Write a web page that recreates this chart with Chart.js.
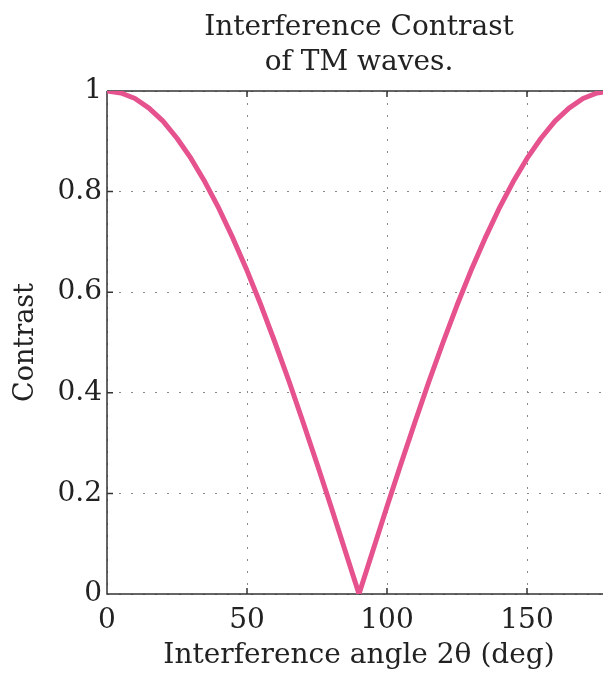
<!DOCTYPE html>
<html>
<head>
<meta charset="utf-8">
<script src="https://cdn.jsdelivr.net/npm/chart.js@4"></script>
<style>
  html, body { margin: 0; padding: 0; background: #fff; overflow: hidden; }
</style>
</head>
<body>
<canvas id="contrastChart" width="620" height="673"></canvas>
<script>
// interference angle 2θ in degrees
const angles = [0, 5, 10, 15, 20, 25, 30, 35, 40, 45, 50, 55, 60, 65, 70, 75, 80, 85, 90,
    95, 100, 105, 110, 115, 120, 125, 130, 135, 140, 145, 150, 155, 160, 165, 170, 175, 180];
// contrast
const contrast = [1.000, 0.996, 0.985, 0.966, 0.940, 0.906, 0.866, 0.819, 0.766, 0.707, 0.643, 0.574, 0.500, 0.423, 0.342, 0.259, 0.174, 0.087, 0.000,
    0.087, 0.174, 0.259, 0.342, 0.423, 0.500, 0.574, 0.643, 0.707, 0.766, 0.819, 0.866, 0.906, 0.940, 0.966, 0.985, 0.996, 1.000];
const xTicks = [0, 50, 100, 150];
const yTicks = [0, 0.2, 0.4, 0.6, 0.8, 1];

const serif = "'DejaVu Serif', 'Liberation Serif', serif";

// box around the plot with small inward tick marks
const frame = {
    id: 'frame',
    beforeDatasetsDraw(chart) {
        const { ctx, chartArea: a, scales } = chart;
        ctx.save();
        ctx.strokeStyle = '#333';
        ctx.lineWidth = 1.5;
        ctx.beginPath();
        ctx.moveTo(a.left, a.top);
        ctx.lineTo(a.right, a.top);
        ctx.moveTo(a.left, a.top);
        ctx.lineTo(a.left, a.bottom);
        ctx.lineTo(a.right, a.bottom);
        xTicks.forEach(v => {
            const x = scales.x.getPixelForValue(v);
            ctx.moveTo(x, a.top);
            ctx.lineTo(x, a.top + 6);
            ctx.moveTo(x, a.bottom);
            ctx.lineTo(x, a.bottom - 6);
        });
        yTicks.forEach(v => {
            const y = scales.y.getPixelForValue(v);
            ctx.moveTo(a.left, y);
            ctx.lineTo(a.left + 6, y);
        });
        ctx.stroke();
        ctx.restore();
    }
};

const ctx = document.getElementById('contrastChart').getContext('2d');
const contrastChart = new Chart(ctx, {
    type: 'line',
    data: {
        labels: angles,
        datasets: [{
            data: angles.map((a, i) => ({ x: a, y: contrast[i] })),
            borderColor: '#e5528e',
            borderWidth: 5,
            borderJoinStyle: 'round',
            pointRadius: 0,
            tension: 0,
            fill: false,
        }],
    },
    options: {
        responsive: false,
        animation: false,
        layout: { padding: { left: 0, right: 9, top: 0, bottom: 0 } },
        plugins: {
            legend: { display: false },
            tooltip: { enabled: false },
            title: {
                display: true,
                fullSize: false,
                text: ['Interference Contrast', 'of TM waves.'],
                color: '#222',
                font: { family: serif, size: 28, weight: 'normal', lineHeight: 1.25 },
                padding: { top: 10, bottom: 11 },
            },
        },
        scales: {
            x: {
                type: 'linear',
                min: 0,
                max: 180,
                grid: {
                    color: '#888',
                    lineWidth: 1,
                    drawTicks: false,
                },
                border: { display: false, dash: [2, 10] },
                ticks: {
                    stepSize: 50,
                    includeBounds: false,
                    padding: 10,
                    color: '#222',
                    maxRotation: 0,
                    font: { family: serif, size: 28 },
                },
                title: {
                    display: true,
                    text: 'Interference angle 2θ (deg)',
                    color: '#222',
                    font: { family: serif, size: 28 },
                    padding: { top: 2, bottom: 0 },
                },
                afterFit(scale) { scale.height = 79; },
            },
            y: {
                min: 0,
                max: 1,
                grid: {
                    color: '#888',
                    lineWidth: 1,
                    drawTicks: false,
                },
                border: { display: false, dash: [2, 10] },
                ticks: {
                    stepSize: 0.2,
                    padding: 5,
                    color: '#222',
                    font: { family: serif, size: 28 },
                    callback: v => String(Math.round(v * 10) / 10),
                },
                title: {
                    display: true,
                    text: 'Contrast',
                    color: '#222',
                    font: { family: serif, size: 27 },
                    padding: { top: 10, bottom: 0 },
                },
                afterFit(scale) { scale.width = 107; },
            },
        },
    },
    plugins: [frame],
});
</script>
</body>
</html>
